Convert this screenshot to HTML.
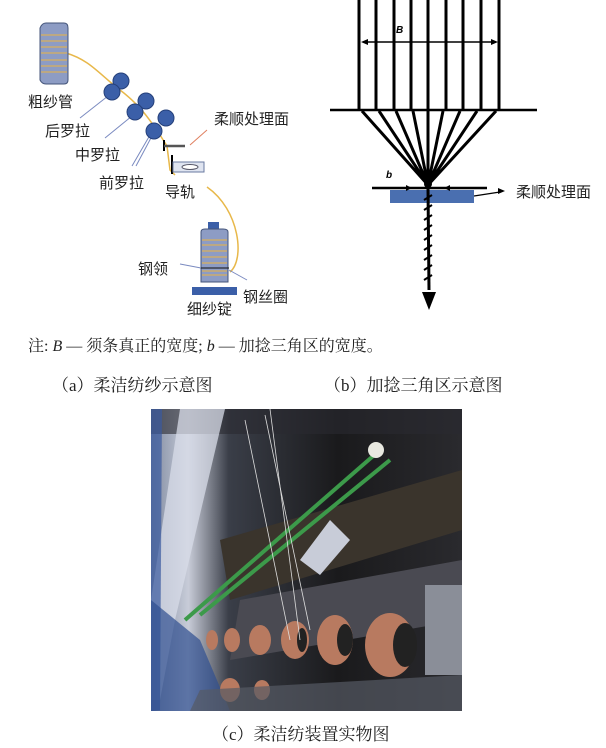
<!DOCTYPE html>
<html><head><meta charset="utf-8"><style>
body{margin:0;background:#fff;width:606px;height:748px;overflow:hidden;position:relative;font-family:"Liberation Sans","Noto Sans CJK SC",sans-serif}
.t{position:absolute;white-space:nowrap;color:#222}
.s{font-family:"Liberation Serif","Noto Serif CJK SC",serif}
</style></head><body>
<svg width="606" height="748" style="position:absolute;left:0;top:0">
<defs>
<linearGradient id="bg" x1="0" y1="0" x2="1" y2="0"><stop offset="0" stop-color="#7f8aa0"/><stop offset="0.12" stop-color="#c8ccd8"/><stop offset="0.25" stop-color="#3a3e48"/><stop offset="0.6" stop-color="#1a1a1c"/><stop offset="1" stop-color="#2a2a2e"/></linearGradient>
</defs>
<path d="M66,53 C90,60 100,75 120,90 C140,105 150,120 160,135 L167,146 L170,170 L175,175" stroke="#e8b84a" stroke-width="1.5" fill="none"/>
<path d="M207,187 C240,210 245,260 230,272" stroke="#e8b84a" stroke-width="1.5" fill="none"/>
<path d="M40,28 Q42,23 46,23 L64,23 Q68,23 68,28 L68,80 Q68,84 64,84 L46,84 Q42,84 40,80 Z" fill="#8d9cc4" stroke="#44557a"/>
<g stroke="#d9b05c" stroke-width="1.3"><line x1="41" y1="35" x2="67" y2="35"/><line x1="41" y1="41" x2="67" y2="41"/><line x1="41" y1="47" x2="67" y2="47"/><line x1="41" y1="53" x2="67" y2="53"/><line x1="41" y1="60" x2="67" y2="60"/><line x1="41" y1="66" x2="67" y2="66"/><line x1="41" y1="72" x2="67" y2="72"/></g>
<g stroke="#7a8ac0" stroke-width="1"><line x1="80" y1="118" x2="108" y2="96"/><line x1="105" y1="138" x2="132" y2="116"/><line x1="132" y1="166" x2="150" y2="135"/><line x1="136" y1="166" x2="152" y2="136"/></g>
<g fill="#3b5fa8" stroke="#25407a"><circle cx="121" cy="81" r="8"/><circle cx="112" cy="92" r="8"/><circle cx="146" cy="101" r="8"/><circle cx="135" cy="112" r="8"/><circle cx="166" cy="118" r="8"/><circle cx="154" cy="131" r="8"/></g>
<line x1="190" y1="145" x2="207" y2="130" stroke="#e08060" stroke-width="1"/>
<line x1="164" y1="140" x2="164" y2="151" stroke="#000" stroke-width="2"/>
<line x1="164" y1="146" x2="185" y2="146" stroke="#555" stroke-width="2.5"/>
<line x1="172" y1="155" x2="172" y2="174" stroke="#000" stroke-width="2"/>
<rect x="173" y="162" width="31" height="10" fill="#dfe4f0" stroke="#6a7aa0"/>
<ellipse cx="190" cy="167" rx="8" ry="2.5" fill="#fff" stroke="#556"/>
<rect x="208" y="222" width="11" height="7" fill="#3b5fa8"/>
<path d="M201,232 Q201,229 205,229 L223,229 Q228,229 228,232 L228,282 L201,282 Z" fill="#8d9cc4" stroke="#44557a"/>
<g stroke="#d9b05c" stroke-width="1.3"><line x1="202" y1="240" x2="227" y2="240"/><line x1="202" y1="245" x2="227" y2="245"/><line x1="202" y1="251" x2="227" y2="251"/><line x1="202" y1="257" x2="227" y2="257"/><line x1="202" y1="263" x2="227" y2="263"/><line x1="202" y1="271" x2="227" y2="271"/><line x1="202" y1="275" x2="227" y2="275"/></g>
<line x1="200" y1="268" x2="229" y2="268" stroke="#111"/>
<rect x="192" y="287" width="45" height="8" fill="#3b5fa8"/>
<line x1="180" y1="264" x2="201" y2="268" stroke="#7a8ac0"/>
<line x1="229" y1="270" x2="247" y2="280" stroke="#7a8ac0"/>
<g stroke="#000" stroke-width="3" fill="none">
<line x1="359" y1="0" x2="359" y2="110"/><line x1="376" y1="0" x2="376" y2="110"/><line x1="394" y1="0" x2="394" y2="110"/><line x1="411" y1="0" x2="411" y2="110"/><line x1="428" y1="0" x2="428" y2="110"/><line x1="446" y1="0" x2="446" y2="110"/><line x1="463" y1="0" x2="463" y2="110"/><line x1="481" y1="0" x2="481" y2="110"/><line x1="499" y1="0" x2="499" y2="110"/>
<path d="M362,111 L428,185 M379,111 L428,185 M396,111 L428,185 M413,111 L428,185 M428,111 L428,185 M443,111 L428,185 M460,111 L428,185 M477,111 L428,185 M496,111 L428,185"/>
</g>
<line x1="330" y1="110" x2="537" y2="110" stroke="#000" stroke-width="2.5"/>
<line x1="363" y1="42" x2="496" y2="42" stroke="#000" stroke-width="1.5"/>
<path d="M361,42 l7,-3 v6z M498,42 l-7,-3 v6z" fill="#000"/>
<text x="396" y="33" font-size="10" font-style="italic" font-weight="bold" font-family="Liberation Sans">B</text>
<text x="386" y="178" font-size="10" font-style="italic" font-weight="bold" font-family="Liberation Sans">b</text>
<circle cx="428" cy="184" r="4" fill="#000"/>
<rect x="390" y="190" width="84" height="13" fill="#4a6fb0"/>
<line x1="372" y1="188" x2="487" y2="188" stroke="#000" stroke-width="2.5"/>
<path d="M412,188 l-6,-3 v6z M444,188 l6,-3 v6z" fill="#000"/>
<line x1="474" y1="196" x2="500" y2="192" stroke="#000" stroke-width="1.2"/><path d="M505,191 l-7,-3 v6z" fill="#000"/>
<line x1="428" y1="188" x2="429" y2="290" stroke="#000" stroke-width="3"/>
<path d="M424,200 l8,-5 M424,210 l8,-5 M424,220 l8,-5 M424,230 l8,-5 M424,240 l8,-5 M424,250 l8,-5 M424,260 l8,-5 M424,270 l8,-5 M424,280 l8,-5" stroke="#000" stroke-width="2"/>
<path d="M422,292 L436,292 L429,310 Z" fill="#000"/>
<rect x="151" y="409" width="311" height="302" fill="url(#bg)"/>
<rect x="151" y="409" width="311" height="25" fill="#2a2a30" opacity="0.6"/>
<polygon points="180,409 225,409 175,620 160,700 151,700 151,600" fill="#d8dce8" opacity="0.75"/>
<polygon points="151,409 162,409 160,710 151,711" fill="#3a5aa0" opacity="0.7"/>
<polygon points="151,600 200,640 230,711 151,711" fill="#2f4e90" opacity="0.7"/>
<polygon points="240,600 462,560 462,620 230,660" fill="#4a4a52"/>
<polygon points="220,540 462,470 462,530 230,600" fill="#3a342c"/>
<g stroke="#3c9a4a" stroke-width="4"><line x1="185" y1="620" x2="380" y2="450"/><line x1="200" y1="615" x2="390" y2="460"/></g>
<circle cx="376" cy="450" r="8" fill="#e8e8e0"/>
<path d="M300,560 L330,520 L350,540 L320,575Z" fill="#c8ccd8"/>
<g fill="#b87a60"><ellipse cx="390" cy="645" rx="25" ry="32"/><ellipse cx="335" cy="640" rx="18" ry="25"/><ellipse cx="295" cy="640" rx="14" ry="19"/><ellipse cx="260" cy="640" rx="11" ry="15"/><ellipse cx="232" cy="640" rx="8" ry="12"/><ellipse cx="212" cy="640" rx="6" ry="10"/><ellipse cx="230" cy="690" rx="10" ry="12"/><ellipse cx="262" cy="690" rx="8" ry="10"/></g>
<g fill="#222"><ellipse cx="405" cy="645" rx="12" ry="22"/><ellipse cx="345" cy="640" rx="8" ry="16"/><ellipse cx="302" cy="640" rx="5" ry="12"/></g>
<rect x="425" y="585" width="37" height="90" fill="#8a8e98"/>
<polygon points="200,690 462,675 462,711 190,711" fill="#555a64" opacity="0.7"/>
<g stroke="#ddd" stroke-width="0.8"><line x1="245" y1="420" x2="290" y2="640"/><line x1="265" y1="415" x2="310" y2="630"/><line x1="270" y1="409" x2="300" y2="640"/></g>
</svg>
<div class="t" style="left:28px;top:91px;font-size:15px">粗纱管</div>
<div class="t" style="left:45px;top:120px;font-size:15px">后罗拉</div>
<div class="t" style="left:75px;top:144px;font-size:15px">中罗拉</div>
<div class="t" style="left:99px;top:172px;font-size:15px">前罗拉</div>
<div class="t" style="left:214px;top:108px;font-size:15px">柔顺处理面</div>
<div class="t" style="left:165px;top:181px;font-size:15px">导轨</div>
<div class="t" style="left:138px;top:258px;font-size:15px">钢领</div>
<div class="t" style="left:243px;top:286px;font-size:15px">钢丝圈</div>
<div class="t" style="left:187px;top:298px;font-size:15px">细纱锭</div>
<div class="t" style="left:516px;top:181px;font-size:15px">柔顺处理面</div>
<div class="t s" style="left:28px;top:333px;font-size:16px">注: <i>B</i> — 须条真正的宽度; <i>b</i> — 加捻三角区的宽度。</div>
<div class="t s" style="left:52px;top:371px;font-size:17px">（a）柔洁纺纱示意图</div>
<div class="t s" style="left:324px;top:371px;font-size:17px">（b）加捻三角区示意图</div>
<div class="t s" style="left:212px;top:720px;font-size:17px">（c）柔洁纺装置实物图</div>
</body></html>
